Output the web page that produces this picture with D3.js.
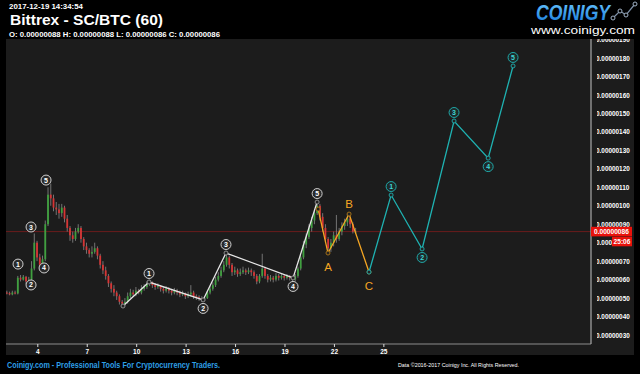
<!DOCTYPE html>
<html><head><meta charset="utf-8">
<script src="https://cdn.jsdelivr.net/npm/d3@7"></script>
<style>html,body{margin:0;padding:0;background:#000;overflow:hidden}svg{display:block}</style>
</head><body><svg id="c" width="640" height="374"></svg>
<script>
// ---------- DATA (prices in units of 1e-8 BTC, x in days) ----------
const startDay = 2.15, stepDay = 1 / 6;   // 4-hour candles
const firstOpen = 53;
const closes = [52.7,52,53,52.5,61,60,61.5,59,60,66,
  80,72,68,71,90,106,104,99,98,96,
  99,93,88,84,82,86,88,82,78,76,
  74,75,77,73,68,65,62,58,55,53,
  51,48,47,48,51,53,52,54,53,55,
  56,57.5,58.5,57,56,56.5,55,54,55,54,
  53,54,53,52,52.5,51,52,53,51,50.5,
  50,49.5,50,53,55,57,60,62,65,68,
  72,68,64,65,63,64,65,64,65,64,
  62,59,62,66,62,60,61,60,62,61,
  62,61,62,61,60,62,66,72,79,83,
  88,92,96,100,94,88,82,77,80,84,
  82,86,89,91,93,90,86,86];
const highs = [54,53.5,54,54,62,62.5,62.5,62,61.5,70,
  85,81,74,73,92,110,112,106,102,101,
  101,100,95,89,86,88,90,89,83,80,
  77,78,80,78,74,70,67,63,59,57,
  54,52,49,50,53,55,54.5,56,55,57,
  57.5,59,60,59,58,58,57,56,56.5,56,
  55,55.5,55,54,54,53,53.5,57,54,52,
  51.5,51,51,54,56.5,58.5,61.5,64,67,70,
  74.5,73,69,67,66,66,67,66,66.5,66,
  65,63,63,74,67,63,62.5,62,63.5,63,
  63.5,63,63,62.5,62,63,67,73,81,85,
  90,94,98,102,101,96,90,83,82,86,
  95,88,91,93,95.5,94,91,88];
const lows = [52,51.5,51.5,52,52,59,59.5,57.5,58,59,
  65,70,67,67,70,89,100,97,95,93,
  94,91,86,81,80,81,85,80,76,74,
  72,72,74,71,66,63,60,56,53,51,
  49,46.5,45.5,46,47,50,51,51,52,52,
  54,55,56.5,55.5,54.5,55,53.5,52.5,53,52.5,
  51.5,52,51.5,50.5,51,49.5,50,51,49.5,49,
  48.5,48,48.5,49.5,52,54,56,59,61,64,
  67,66,62,62.5,61.5,62,63,62.5,63,62,
  60.5,57.5,58,61,60.5,58.5,59,58.5,59,59.5,
  60,59.5,60,59.5,58.5,59,61,65,71,77,
  82,86,90,95,92,86,80,74.5,75,78,
  80,81,84,87,89,88,85,85];

const xTickValues = [4,7,10,13,16,19,22,25];
const yTickValues = [30,40,50,60,70,80,90,100,110,120,130,140,150,160,170,180,190];
const lastPrice = 86;
const countdown = "25:06";

// Elliott wave annotations
const w0Days = [2.83,3.62,3.62,4.41,4.53];
const w0Vals = [68.4,57.1,88.5,66.3,113.9];
const w0Labels = ["1","2","3","4","5"];

const w1Days = [9.20,10.78,14.06,15.45,19.52,20.98];
const w1Vals = [45.7,58.7,49.0,74.4,60.9,102.0];
const w1Labels = ["","1","2","3","4","5"];
const w1Sides = [0,-1,1,-1,1,-1];

const abcDays = [21.04,21.64,22.92,24.13];
const abcVals = [98.2,74.4,95.5,64.1];
const abcLabels = ["","A","B","C"];
const abcSides = [0,1,-1,1];

const cyDays = [24.13,25.47,27.35,29.29,31.36,32.87];
const cyVals = [64.1,105.8,76.6,145.9,125.8,175.7];
const cyLabels = ["","1","2","3","4","5"];
const cySides = [0,-1,1,-1,1,-1];

// ---------- DRAW ----------
const svg = d3.select("#c");
const L = 6, R = 591, T = 39, B = 344;
const x = d3.scaleLinear().domain([2.1, 37.6]).range([L, R]);
const y = d3.scaleLinear().domain([25.13, 190.3]).range([B, T]);
const FONT = "'Liberation Sans', Arial, sans-serif";

svg.append("rect").attr("width",640).attr("height",374).attr("fill","#000");
const defs = svg.append("defs");
defs.append("clipPath").attr("id","plotclip").append("rect")
  .attr("x",L).attr("y",T).attr("width",R-L).attr("height",B-T);
defs.append("clipPath").attr("id","panelclip").append("rect")
  .attr("x",L).attr("y",T).attr("width",634-L).attr("height",355-T);
const grad = defs.append("linearGradient").attr("id","logo").attr("x1",0).attr("y1",0).attr("x2",0).attr("y2",1);
grad.append("stop").attr("offset","0%").attr("stop-color","#6cc8ff");
grad.append("stop").attr("offset","100%").attr("stop-color","#1478d8");

// panel
svg.append("rect").attr("x",L).attr("y",T).attr("width",634-L).attr("height",355-T).attr("fill","#1c1c1c");

// header
svg.append("text").attr("x",9).attr("y",9).attr("fill","#fff").attr("font-family",FONT)
  .attr("font-weight","bold").attr("font-size",8).attr("textLength",74).attr("lengthAdjust","spacingAndGlyphs")
  .text("2017-12-19 14:34:54");
svg.append("text").attr("x",10).attr("y",24.5).attr("fill","#fff").attr("font-family",FONT)
  .attr("font-weight","bold").attr("font-size",15.5).attr("textLength",153).attr("lengthAdjust","spacingAndGlyphs")
  .text("Bittrex - SC/BTC (60)");
svg.append("text").attr("x",9).attr("y",36.5).attr("fill","#fff").attr("font-family",FONT)
  .attr("font-weight","bold").attr("font-size",7.8).attr("textLength",211).attr("lengthAdjust","spacingAndGlyphs")
  .text("O: 0.00000088 H: 0.00000088 L: 0.00000086 C: 0.00000086");

// logo
svg.append("text").attr("x",536).attr("y",20).attr("fill","url(#logo)").attr("font-family",FONT)
  .attr("font-weight","bold").attr("font-style","italic").attr("font-size",22)
  .attr("textLength",74).attr("lengthAdjust","spacingAndGlyphs").text("COINIGY");
const iconPts = [[613,18],[620,11],[626,15],[635,4]];
svg.append("polyline").attr("points",iconPts.map(p=>p.join(",")).join(" "))
  .attr("fill","none").attr("stroke","#7d8fa6").attr("stroke-width",1.2);
svg.selectAll("circle.icon").data(iconPts).enter().append("circle")
  .attr("cx",d=>d[0]).attr("cy",d=>d[1]).attr("r",2).attr("fill","#000").attr("stroke","#9fb0c4").attr("stroke-width",1);
svg.append("text").attr("x",531).attr("y",34).attr("fill","#fff").attr("font-family",FONT)
  .attr("font-size",11.5).attr("textLength",104).attr("lengthAdjust","spacingAndGlyphs").text("www.coinigy.com");

// plot group
const plot = svg.append("g").attr("clip-path","url(#plotclip)");

// last price line
plot.append("line").attr("x1",L).attr("x2",R).attr("y1",y(lastPrice)).attr("y2",y(lastPrice))
  .attr("stroke","#6a1c1c").attr("stroke-width",1);

// candles
const candles = closes.map((c,i)=>({
  d: startDay + i*stepDay,
  o: i===0 ? firstOpen : closes[i-1], c, h: highs[i], l: lows[i]
}));
const cg = plot.append("g");
cg.selectAll("line.wick").data(candles).enter().append("line")
  .attr("x1",d=>x(d.d)).attr("x2",d=>x(d.d)).attr("y1",d=>y(d.h)).attr("y2",d=>y(d.l))
  .attr("stroke","#8a8a8a").attr("stroke-width",0.8);
cg.selectAll("rect.body").data(candles).enter().append("rect")
  .attr("x",d=>x(d.d)-0.9).attr("width",1.8)
  .attr("y",d=>y(Math.max(d.o,d.c))).attr("height",d=>Math.max(1,Math.abs(y(d.o)-y(d.c))))
  .attr("fill",d=>d.c>=d.o ? "#3fa03f" : "#d83434");

// axes frame
svg.append("line").attr("x1",L).attr("x2",R).attr("y1",B).attr("y2",B).attr("stroke","#8c8c8c").attr("stroke-width",1.2);
svg.append("line").attr("x1",R).attr("x2",R).attr("y1",T).attr("y2",B).attr("stroke","#aaaaaa").attr("stroke-width",1.2);

// x axis
const xAxis = d3.axisBottom(x).tickValues(xTickValues).tickSize(3).tickPadding(2).tickFormat(d3.format("d"));
const xg = svg.append("g").attr("transform",`translate(0,${B})`).call(xAxis);
xg.select(".domain").remove();
xg.selectAll(".tick line").attr("stroke","#ddd");
xg.selectAll(".tick text").attr("fill","#fff").attr("font-family",FONT).attr("font-weight","bold").attr("font-size",6.5);

// y axis
const yAxis = d3.axisRight(y).tickValues(yTickValues).tickSize(3).tickPadding(2)
  .tickFormat(v => (v*1e-8).toFixed(8));
const yg = svg.append("g").attr("transform",`translate(${R},0)`).attr("clip-path","url(#panelclip)").call(yAxis);
yg.select(".domain").remove();
yg.selectAll(".tick line").attr("stroke","#ccc");
yg.selectAll(".tick text").attr("fill","#fff").attr("font-family",FONT).attr("font-weight","bold").attr("font-size",6.4);

// last price tag
const yp = y(lastPrice);
svg.append("rect").attr("x",R).attr("y",yp-4.8).attr("width",41).attr("height",9.6).attr("fill","#e8120c");
svg.append("text").attr("x",R+3).attr("y",yp).attr("dy","0.35em").attr("fill","#fff").attr("font-family",FONT)
  .attr("font-weight","bold").attr("font-size",6.6).text((lastPrice*1e-8).toFixed(8));
svg.append("rect").attr("x",612).attr("y",yp+5.2).attr("width",20).attr("height",9.5).attr("fill","#e8120c");
svg.append("text").attr("x",622).attr("y",yp+10).attr("dy","0.35em").attr("text-anchor","middle").attr("fill","#fff")
  .attr("font-family",FONT).attr("font-weight","bold").attr("font-size",6.6).text(countdown);

// waves
const ann = svg.append("g");
function badge(cx, cy, label, stroke, fill, txt){
  ann.append("circle").attr("cx",cx).attr("cy",cy).attr("r",5).attr("fill",fill).attr("stroke",stroke).attr("stroke-width",1);
  ann.append("text").attr("x",cx).attr("y",cy).attr("dy","0.36em").attr("text-anchor","middle").attr("fill",txt)
    .attr("font-family",FONT).attr("font-weight","bold").attr("font-size",7).text(label);
}
function wave(days, vals, labels, sides, color, opts){
  const pts = days.map((d,i)=>[x(d), y(vals[i])]);
  ann.append("path").attr("d",d3.line()(pts)).attr("fill","none").attr("stroke",color).attr("stroke-width",1.3);
  pts.forEach(p=>ann.append("circle").attr("cx",p[0]).attr("cy",p[1]).attr("r",2).attr("fill","#222").attr("stroke",opts.pointStroke).attr("stroke-width",0.9));
  pts.forEach((p,i)=>{
    if(!labels[i]) return;
    if(opts.letters){
      const off = sides[i] > 0 ? 14 : -10;
      ann.append("text").attr("x",p[0]).attr("y",p[1]+off).attr("dy","0.36em").attr("text-anchor","middle")
        .attr("fill",color).attr("font-family",FONT).attr("font-size",11.5).text(labels[i]);
    } else {
      badge(p[0], p[1] + sides[i]*8.5, labels[i], opts.badgeStroke, opts.badgeFill, opts.badgeText);
    }
  });
}
// first impulse labels (no lines)
w0Days.forEach((d,i)=>badge(x(d), y(w0Vals[i]), w0Labels[i], "#cfcfcf", "#2a2a2a", "#fff"));
wave(w1Days, w1Vals, w1Labels, w1Sides, "#e6e6e6", {pointStroke:"#999", badgeStroke:"#cfcfcf", badgeFill:"#2a2a2a", badgeText:"#fff"});
wave(abcDays, abcVals, abcLabels, abcSides, "#f5a623", {letters:true, pointStroke:"#b07818"});
wave(cyDays, cyVals, cyLabels, cySides, "#1fb2b2", {pointStroke:"#1fb2b2", badgeStroke:"#1fa8a8", badgeFill:"#1e2a2a", badgeText:"#3fd6d6"});

// footer
svg.append("text").attr("x",7).attr("y",368).attr("fill","#2e9fe6").attr("font-family",FONT)
  .attr("font-weight","bold").attr("font-size",8.6).attr("textLength",213).attr("lengthAdjust","spacingAndGlyphs")
  .text("Coinigy.com - Professional Tools For Cryptocurrency Traders.");
svg.append("text").attr("x",398).attr("y",366.5).attr("fill","#fff").attr("font-family",FONT)
  .attr("font-size",6.2).attr("textLength",121).attr("lengthAdjust","spacingAndGlyphs")
  .text("Data ©2016-2017 Coinigy Inc. All Rights Reserved.");
</script>
</body></html>
